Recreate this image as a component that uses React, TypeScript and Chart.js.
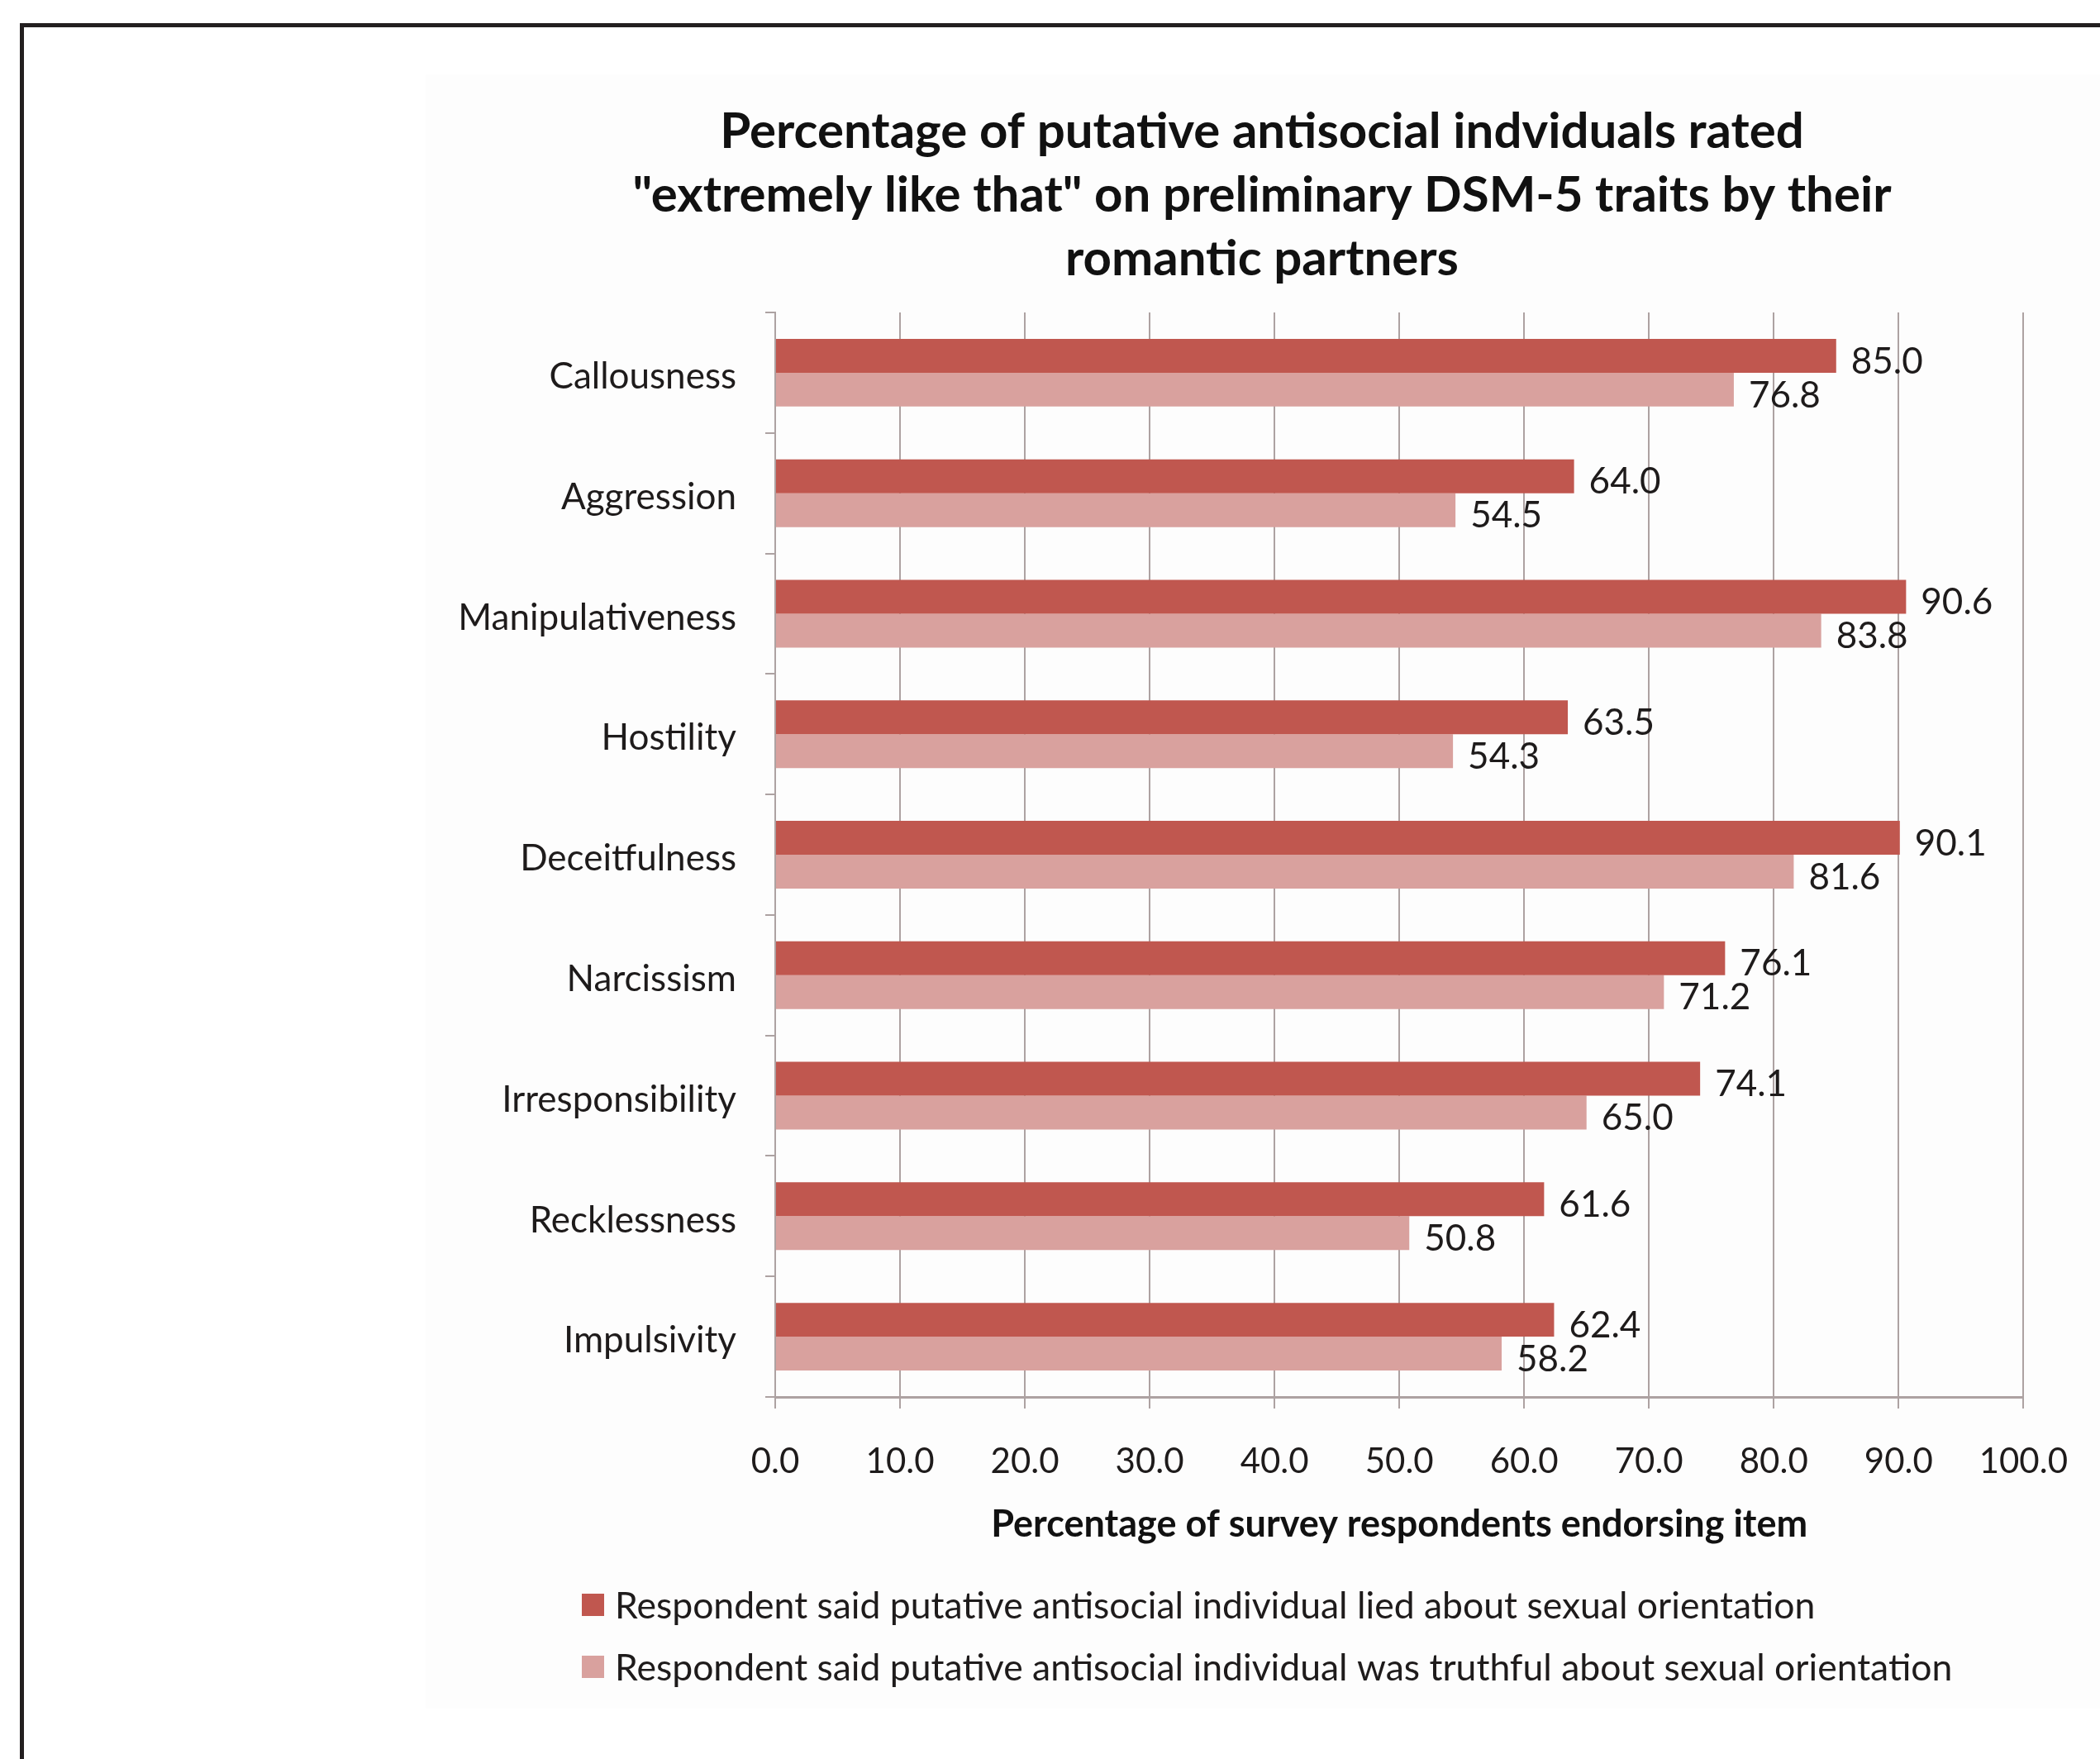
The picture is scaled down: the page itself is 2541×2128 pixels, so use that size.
import React, { useEffect, useRef } from "react";
import { Chart, registerables } from "chart.js";

Chart.register(...registerables);

const traits = [
  "Callousness",
  "Aggression",
  "Manipulativeness",
  "Hostility",
  "Deceitfulness",
  "Narcissism",
  "Irresponsibility",
  "Recklessness",
  "Impulsivity",
];

const liedValues = [85.0, 64.0, 90.6, 63.5, 90.1, 76.1, 74.1, 61.6, 62.4];
const truthfulValues = [76.8, 54.5, 83.8, 54.3, 81.6, 71.2, 65.0, 50.8, 58.2];

const percentTicks = [0, 10, 20, 30, 40, 50, 60, 70, 80, 90, 100];

const seriesLabels = [
  "Respondent said putative antisocial individual lied about sexual orientation",
  "Respondent said putative antisocial individual was truthful about sexual orientation",
];

const titleLines = [
  "Percentage of putative antisocial indviduals rated",
  '"extremely like that" on preliminary DSM-5 traits by their',
  "romantic partners",
];

const axisTitle = "Percentage of survey respondents endorsing item";

const FONT = "Lato, 'Open Sans', sans-serif";
const TEXT = "#1e1b1b";
const GRID = "#ada2a2";
const DARK = "#c0574f";
const LIGHT = "#d9a19e";

// White page, faint chart panel and the heavy frame on the left and top edges.
const backdrop = {
  id: "backdrop",
  beforeDraw(chart: Chart) {
    const { ctx, width, height } = chart;
    ctx.save();
    ctx.fillStyle = "#ffffff";
    ctx.fillRect(0, 0, width, height);
    ctx.fillStyle = "#fdfdfd";
    ctx.fillRect(515, 90, width - 515, 1977);
    ctx.fillStyle = "#231f20";
    ctx.fillRect(24, 28, 5, height - 28);
    ctx.fillRect(24, 28, width - 24, 5);
    ctx.restore();
  },
};

// Three-line bold heading centred over the panel.
const heading = {
  id: "heading",
  afterDraw(chart: Chart) {
    const { ctx } = chart;
    ctx.save();
    ctx.font = `bold 60px ${FONT}`;
    ctx.fillStyle = "#111111";
    ctx.textAlign = "center";
    ctx.textBaseline = "middle";
    titleLines.forEach((line, i) => {
      ctx.fillText(line, 1527, 160 + i * 77);
    });
    ctx.restore();
  },
};

// Value printed just to the right of each bar.
const barValues = {
  id: "barValues",
  afterDatasetsDraw(chart: Chart) {
    const { ctx } = chart;
    ctx.save();
    ctx.font = `44px ${FONT}`;
    ctx.fillStyle = TEXT;
    ctx.textAlign = "left";
    ctx.textBaseline = "middle";
    chart.data.datasets.forEach((ds, di) => {
      const meta = chart.getDatasetMeta(di);
      meta.data.forEach((bar: any, i) => {
        const v = ds.data[i] as number;
        ctx.fillText(v.toFixed(1), bar.x + 18, bar.y + 7);
      });
    });
    ctx.restore();
  },
};

// Two-row legend placed under the axis title.
const stackedLegend = {
  id: "stackedLegend",
  afterDraw(chart: Chart) {
    const { ctx } = chart;
    ctx.save();
    ctx.font = `44.5px ${FONT}`;
    ctx.textAlign = "left";
    ctx.textBaseline = "middle";
    chart.data.datasets.forEach((ds, i) => {
      const cy = 1941 + i * 75;
      ctx.fillStyle = ds.backgroundColor as string;
      ctx.fillRect(704, cy - 13, 27, 27);
      ctx.fillStyle = TEXT;
      ctx.fillText(ds.label as string, 744, cy + 3);
    });
    ctx.restore();
  },
};

export default function App() {
  const canvasRef = useRef<HTMLCanvasElement | null>(null);

  useEffect(() => {
    const canvas = canvasRef.current;
    if (!canvas) return;
    const chart = new Chart(canvas, {
      type: "bar",
      data: {
        labels: traits,
        datasets: [
          {
            label: seriesLabels[0],
            data: liedValues,
            backgroundColor: DARK,
            categoryPercentage: 0.562,
            barPercentage: 1.0,
          },
          {
            label: seriesLabels[1],
            data: truthfulValues,
            backgroundColor: LIGHT,
            categoryPercentage: 0.562,
            barPercentage: 1.0,
          },
        ],
      },
      options: {
        indexAxis: "y",
        responsive: false,
        maintainAspectRatio: false,
        devicePixelRatio: 1,
        animation: false,
        layout: { padding: { left: 440, right: 88, top: 378, bottom: 250 } },
        plugins: {
          legend: { display: false },
          tooltip: { enabled: false },
          title: { display: false },
        },
        scales: {
          x: {
            type: "linear",
            min: 0,
            max: 100,
            afterBuildTicks: (scale: any) => {
              scale.ticks = percentTicks.map((v) => ({ value: v }));
            },
            afterFit: (scale: any) => {
              scale.height = 188;
            },
            ticks: {
              padding: 39,
              color: TEXT,
              font: { family: FONT, size: 42 },
              callback: (v: any) => Number(v).toFixed(1),
            },
            grid: { color: GRID, lineWidth: 2, drawTicks: true, tickLength: 14 },
            border: { display: true, color: GRID, width: 3 },
            title: {
              display: true,
              text: axisTitle,
              color: "#111111",
              font: { family: FONT, size: 45, weight: "bold", lineHeight: 1.2 },
              padding: { top: 0, bottom: 7 },
            },
          },
          y: {
            type: "category",
            afterFit: (scale: any) => {
              scale.width = 498;
            },
            ticks: {
              padding: 35,
              labelOffset: 5,
              color: TEXT,
              font: { family: FONT, size: 44 },
            },
            grid: {
              drawOnChartArea: false,
              drawTicks: true,
              tickLength: 12,
              color: GRID,
              lineWidth: 2,
              offset: true,
            },
            border: { display: true, color: GRID, width: 2 },
          },
        },
      },
      plugins: [backdrop, barValues, heading, stackedLegend],
    });
    return () => chart.destroy();
  }, []);

  return (
    <div style={{ position: "absolute", left: 0, top: 0, width: 2541, height: 2128 }}>
      <canvas
        ref={canvasRef}
        width={2541}
        height={2128}
        style={{ display: "block", width: 2541, height: 2128 }}
      />
    </div>
  );
}
